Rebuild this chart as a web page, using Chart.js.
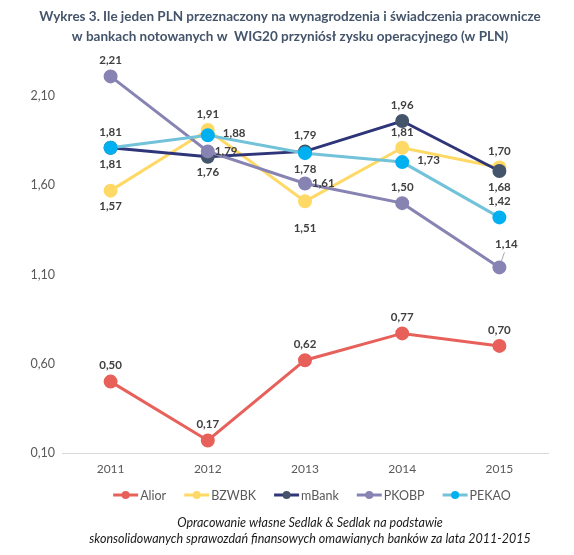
<!DOCTYPE html>
<html lang="pl">
<head>
<meta charset="utf-8">
<script src="https://cdn.jsdelivr.net/npm/chart.js@4.4.1/dist/chart.umd.min.js"></script>
<style>
  html, body { margin: 0; padding: 0; background: #fff; }
</style>
</head>
<body>
<canvas id="wykres" width="574" height="555"></canvas>
<script>
const lata = ['2011', '2012', '2013', '2014', '2015'];
const alior = [0.50, 0.17, 0.62, 0.77, 0.70];
const bzwbk = [1.57, 1.91, 1.51, 1.81, 1.70];
const mbank = [1.81, 1.76, 1.79, 1.96, 1.68];
const pkobp = [2.21, 1.79, 1.61, 1.50, 1.14];
const pekao = [1.81, 1.88, 1.78, 1.73, 1.42];
const osY = [0.10, 0.60, 1.10, 1.60, 2.10];

// gdzie stoi etykieta: t = nad, b = pod, bb = nizej, r / rr = z prawej, tr = nad z linia
const polozenieAlior = ['t', 't', 't', 't', 't'];
const polozenieBzwbk = ['b', 't', 'bb', 't', 't'];
const polozenieMbank = ['b', 'b', 't', 't', 'b'];
const polozeniePkobp = ['t', 'r', 'r', 't', 'tr'];
const polozeniePekao = ['t', 'rr', 'b', 'rr', 't'];

const tytul = [
  'Wykres 3. Ile jeden PLN przeznaczony na wynagrodzenia i świadczenia pracownicze',
  'w bankach notowanych w  WIG20 przyniósł zysku operacyjnego (w PLN)'
];
const zrodlo = [
  'Opracowanie własne Sedlak & Sedlak na podstawie',
  'skonsolidowanych sprawozdań finansowych omawianych banków za lata 2011-2015'
];

const FONT = 'Lato, "Open Sans", sans-serif';
const fmt = v => v.toFixed(2).replace('.', ',');

function seria(nazwa, dane, linia, punkt, kolejnosc, polozenie) {
  return {
    label: nazwa,
    data: dane,
    borderColor: linia,
    backgroundColor: punkt,
    pointBackgroundColor: punkt,
    pointBorderColor: punkt,
    pointRadius: 5.5,
    pointHoverRadius: 5.5,
    borderWidth: 3,
    tension: 0,
    order: kolejnosc,
    polozenie: polozenie
  };
}

const etykiety = {
  id: 'etykiety',
  afterDatasetsDraw(chart) {
    const ctx = chart.ctx;
    ctx.save();
    ctx.font = 'bold 11.5px ' + FONT;
    ctx.textBaseline = 'middle';
    chart.data.datasets.forEach((ds, i) => {
      const meta = chart.getDatasetMeta(i);
      meta.data.forEach((p, j) => {
        const gdzie = ds.polozenie[j];
        const txt = fmt(ds.data[j]);
        let x = p.x, y = p.y;
        ctx.textAlign = 'center';
        if (gdzie === 't') y -= 16;
        else if (gdzie === 'b') y += 16;
        else if (gdzie === 'bb') y += 27;
        else if (gdzie === 'r') { x += 7; ctx.textAlign = 'left'; }
        else if (gdzie === 'rr') { x += 15; y -= 2; ctx.textAlign = 'left'; }
        else if (gdzie === 'tr') {
          ctx.strokeStyle = '#a6a6a6';
          ctx.lineWidth = 1;
          ctx.beginPath();
          ctx.moveTo(x + 2, y - 6);
          ctx.lineTo(x + 5, y - 15);
          ctx.stroke();
          x += 7; y -= 23;
        }
        ctx.fillStyle = '#404040';
        ctx.fillText(txt, x, y);
      });
    });
    ctx.restore();
  }
};

const opisy = {
  id: 'opisy',
  afterDraw(chart) {
    const ctx = chart.ctx;
    ctx.save();
    ctx.textAlign = 'center';
    ctx.textBaseline = 'middle';
    ctx.fillStyle = '#44546a';
    ctx.font = 'bold 13.5px ' + FONT;
    ctx.fillText(tytul[0], 290, 17);
    ctx.fillText(tytul[1], 290, 37);

    // legenda
    ctx.font = '12.5px ' + FONT;
    const dl = 25, odstep = 2, przerwa = 18;
    const szer = chart.data.datasets.map(ds => dl + odstep + ctx.measureText(ds.label).width);
    const razem = szer.reduce((a, b) => a + b, 0) + przerwa * (szer.length - 1);
    let x = 312 - razem / 2;
    const y = 495;
    chart.data.datasets.forEach((ds, i) => {
      ctx.strokeStyle = ds.borderColor;
      ctx.lineWidth = 3;
      ctx.beginPath();
      ctx.moveTo(x, y);
      ctx.lineTo(x + dl, y);
      ctx.stroke();
      ctx.fillStyle = ds.pointBackgroundColor;
      ctx.beginPath();
      ctx.arc(x + dl / 2, y, 4, 0, Math.PI * 2);
      ctx.fill();
      ctx.fillStyle = '#595959';
      ctx.textAlign = 'left';
      ctx.fillText(ds.label, x + dl + odstep, y + 1);
      x += szer[i] + przerwa;
    });

    ctx.textAlign = 'center';
    ctx.fillStyle = '#1a1a1a';
    ctx.font = 'italic 12.5px ' + FONT;
    ctx.fillText(zrodlo[0], 310, 523);
    ctx.fillText(zrodlo[1], 310, 539);
    ctx.restore();
  }
};

new Chart(document.getElementById('wykres'), {
  type: 'line',
  data: {
    labels: lata,
    datasets: [
      seria('Alior', alior, '#e8605a', '#e8605a', 5, polozenieAlior),
      seria('BZWBK', bzwbk, '#ffd966', '#ffd966', 4, polozenieBzwbk),
      seria('mBank', mbank, '#2e3579', '#44546a', 3, polozenieMbank),
      seria('PKOBP', pkobp, '#8783b2', '#8783b2', 2, polozeniePkobp),
      seria('PEKAO', pekao, '#72c3d9', '#00b0f0', 1, polozeniePekao)
    ]
  },
  options: {
    responsive: false,
    animation: false,
    layout: { padding: { top: 55, right: 26, bottom: 77, left: 0 } },
    plugins: {
      legend: { display: false },
      title: { display: false },
      tooltip: { enabled: false }
    },
    scales: {
      x: {
        offset: true,
        grid: { display: false, drawTicks: false },
        border: { display: true, color: '#d9d9d9', width: 1 },
        ticks: { color: '#595959', font: { family: FONT, size: 12 }, padding: 9 },
        afterFit(s) { s.height = 25; }
      },
      y: {
        min: 0.10,
        max: 2.33,
        grid: { display: false, drawTicks: false },
        border: { display: false },
        ticks: {
          color: '#595959',
          font: { family: FONT, size: 12.5 },
          padding: 7,
          callback: v => fmt(v)
        },
        afterBuildTicks(s) { s.ticks = osY.map(v => ({ value: v })); },
        afterFit(s) { s.width = 62; }
      }
    }
  },
  plugins: [etykiety, opisy]
});
</script>
</body>
</html>
